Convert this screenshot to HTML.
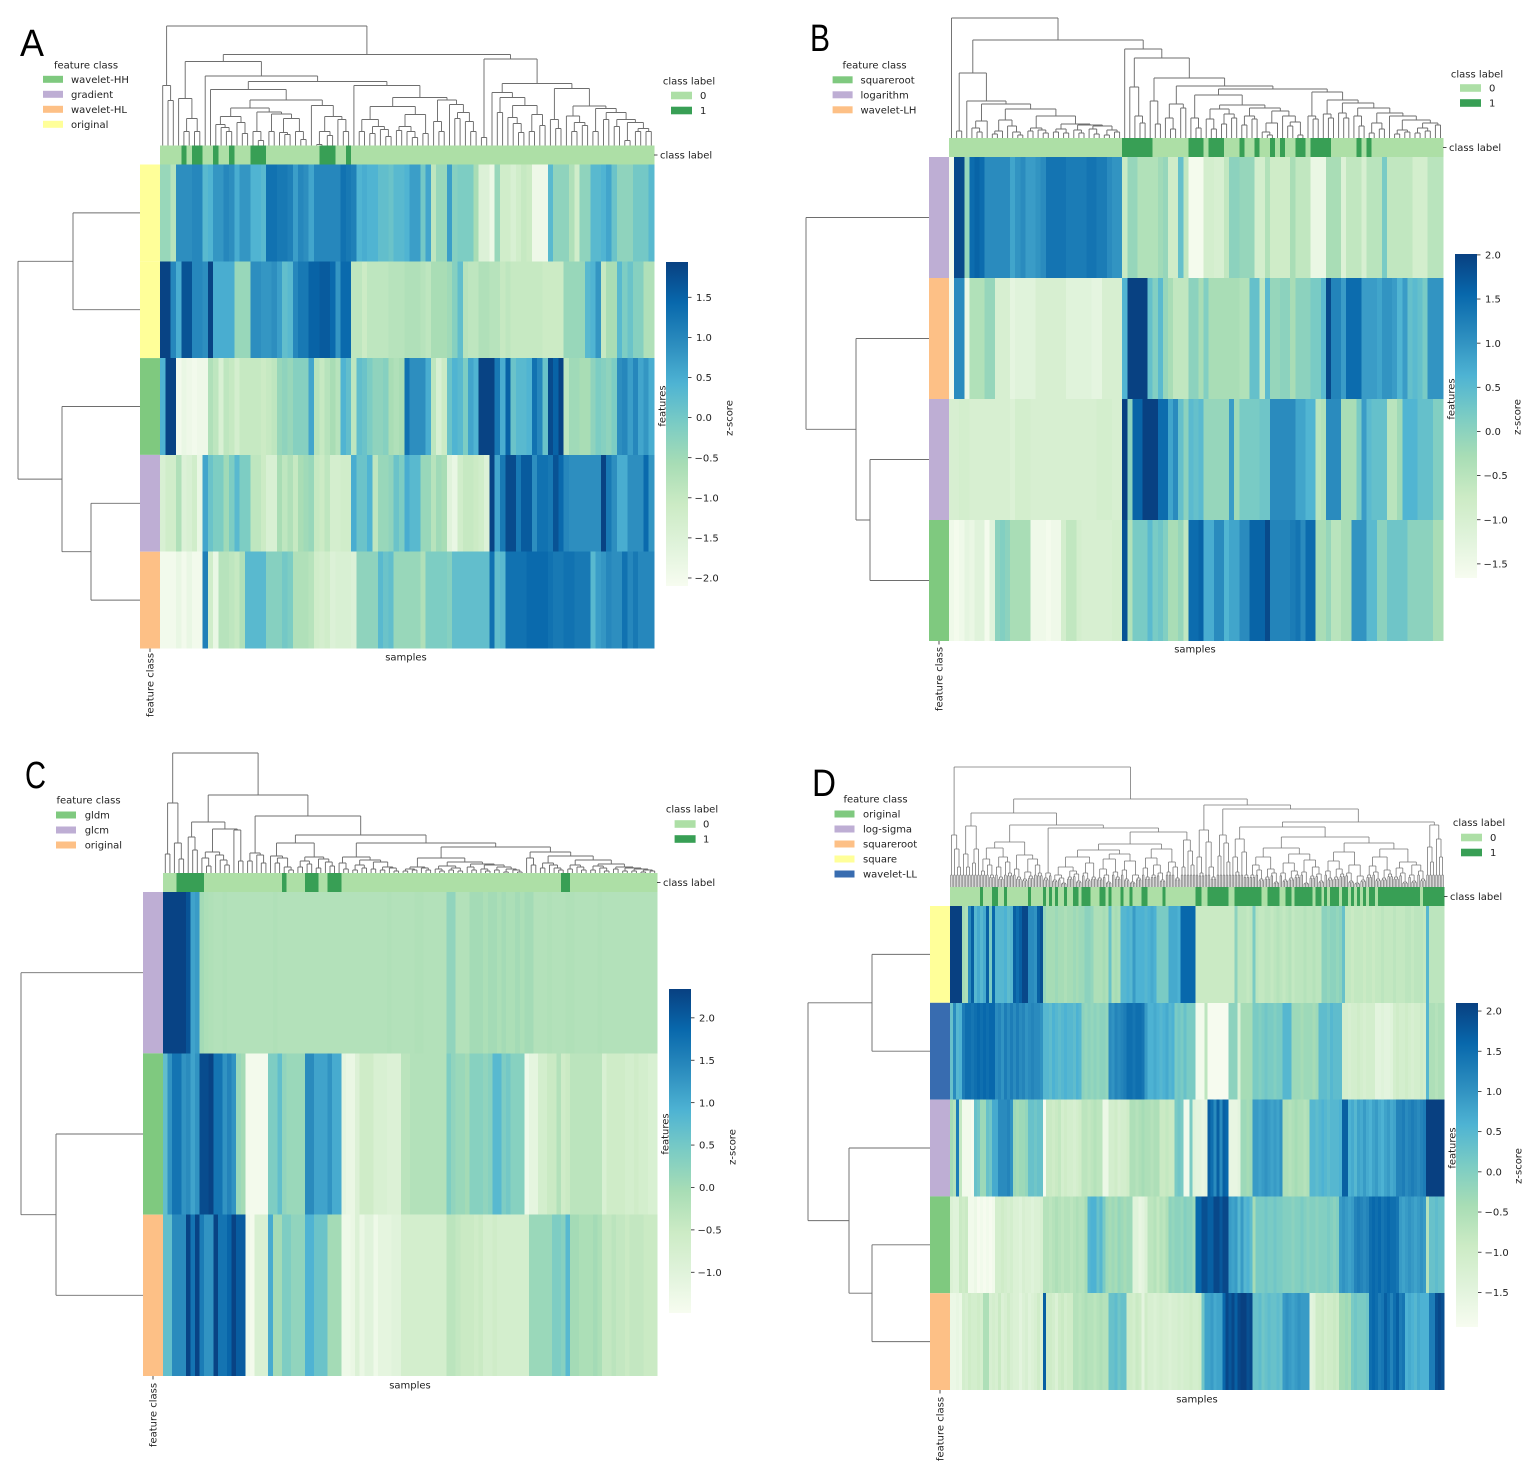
<!DOCTYPE html>
<html lang="en">
<head>
<meta charset="utf-8">
<title>Clustered heatmaps of radiomic features</title>
<style>
html,body{margin:0;padding:0;background:#fff}
svg{display:block}
text{font-family:"DejaVu Sans","Liberation Sans",sans-serif;font-size:10px;fill:#222}
.letter{font-family:"Liberation Sans",sans-serif;font-size:38px;fill:#000}
</style>
</head>
<body>
<svg id="figure" xmlns="http://www.w3.org/2000/svg" width="1535" height="1474" viewBox="0 0 1535 1474"></svg>
<script>
const NS = 'http://www.w3.org/2000/svg';

/* Dendrograms are stored as merge sequences: 0 = next leaf, any other number = merge the last two clusters at that distance. */

/* ---------- Panel A data ---------- */
const legendA = ['wavelet-HH','gradient','wavelet-HL','original'];
const rowClassesA = ['original','original','wavelet-HH','gradient','wavelet-HL'];
const classOneA = [4,6,7,10,13,17,18,19,30,31,32,35];
const ticksA = [1.5,1,.5,0,-.5,-1,-1.5,-2];
const zA1 = [-.4,-.4,-.8,.9,.9,.9,1,1,.3,.4,.8,.8,1,.9,.5,.8,.8,.4,.4,.3,1.3,1.3,1.2,1.2,1.1,.7,1,.9,.6,1,1,1,1,1,1.3,1.2,1.1,.4,.5,.4,.4,.2,.2,.1,.3,.3,.4,.7,.7,0,.6,-.9,-.4,-.4,.7,-.2,-.1,-.1,-.1,-.6,-1.5,-1.5,-1.85,-.4,-1.2,-1.2,-1.4,-1.2,-1,-1.1,-1.9,-1.9,-1.9,.3,-.3,-.3,-.3,-.7,-1.2,-.3,-.3,.3,.3,.4,.6,.1,-.3,-.3,-.3,0,0,0,.3];
const zA2 = [1.9,1.9,1,.5,1.7,1.7,1,1,.9,1.9,.5,.5,.5,.5,-.4,-.4,-.4,.9,.9,.8,.8,.9,.7,.2,.3,1,1.2,1.2,1.5,1.5,1.6,1.6,1.4,.8,1.4,1.4,-.9,-.9,-1.1,-.9,-.9,-.9,-.9,-.8,-.8,-.8,-.7,-.7,-.7,-.8,-.9,-.6,-.6,-.6,-.5,-.2,.2,-.8,-.9,-.9,-.7,-.7,-.8,-.8,-1,-.9,-1,-1,-1,-1,-1,-1,-1.1,-1.1,-1.1,-1.1,-.4,-.4,-.4,-.4,.3,.4,.8,-1,-.6,-.6,.3,-.1,.1,-.2,-.2,-.7,-.7];
const zA3 = [.4,1.9,1.9,-2,-1.8,-1.9,-2,-1.9,-1.9,-.7,-.9,-1.4,-.9,-1,-1.3,-1,-1,-1,-1,-1.1,-1,-.9,-.4,-.3,-.4,-.2,-.2,-.2,.6,-.8,-1,-.8,-.6,-.8,.4,.2,-.9,.2,.1,-.1,-.3,-.3,-.2,-.6,-.7,-.6,1.3,.9,.9,.9,.5,-.9,-1.4,-1.1,.1,.4,.3,-.1,.6,.4,1.9,1.9,1.9,1.2,.5,1.5,.1,.3,.3,.4,1.3,1,.1,1.8,1.5,1.9,-.9,-.5,-.5,-.6,-.6,-.3,-.1,-.2,-.3,-.1,.9,1,.7,1,.6,.8,.5];
const zA4 = [-1.4,-1.2,-1.2,-.7,-1.5,-1.4,-1.2,-1.8,.6,.1,-.1,-.1,-.5,-.1,.3,-.1,-.1,-.9,-.9,-1.1,-1.4,-1.4,-.6,-.9,-.7,-1,-.6,-.5,-.4,-1,-1.1,-.9,-1.3,-1.3,-1.2,-1.2,.5,.1,.1,.4,-.9,-.4,-.4,-.3,.1,-.1,.5,.3,.3,-.4,-.4,-.8,-.5,-.6,-1.6,-1.8,-1.2,-1,-1,-1.1,-1.2,-1.5,1.9,.6,1.2,1.8,1.8,1.2,1.6,1.6,.9,1.3,1.3,1.2,1.7,1.4,1,.9,.9,.9,.9,.9,.9,1.9,1.2,.9,.5,.5,.9,.9,.9,1.4,.8];
const zA5 = [-2,-2,-2,-1.8,-2,-1.8,-2,-2,1.1,-1.2,-1.8,-.8,-.8,-.9,-1,-.7,.3,.3,.3,.3,-.2,-.2,-.2,0,-.1,-.7,-.7,-.7,-.8,-1.2,-1.3,-1.2,-1.5,-1.4,-1.4,-1.4,-1.5,-.3,-.3,-.3,-.3,.3,.1,.2,-.4,-.4,-.4,-.4,-.4,-.7,-.1,-.1,-.1,-.1,-.2,.2,.2,.2,.2,.2,.2,.2,1.3,.2,.3,1.3,1.3,1.3,1.3,1.4,1.4,1.4,1.4,1.3,1.2,1.2,1.3,1.3,1.2,1.2,1.2,.3,.7,.8,1,.9,.9,1.3,1,1.2,1,1,1];
const treeA = [0,0,0,45,60,
 0,0,0,14,0,0,14,27,47,
 0,0,0,0,0,0,14,18,21,0,0,0,12,23,29,0,0,0,5,14,0,0,14,0,0,0,11,13,0,0,0,6,14,27,31.5,33.5,37.5,
 0,0,0,1,0,0,10,14,0,0,0,14,26,29,40,45.5,56,
 0,0,0,14,0,0,12,0,0,0,9,16,19,26,0,0,15,0,0,0,8,14,19,0,0,12,31,39,
 0,0,0,14,24,0,0,0,27,0,0,0,14,24,33,41,45.5,48,60,64,69.5,84,
 0,0,8,
 0,0,0,33,0,0,0,0,13,22,28,0,0,14,0,0,20,31,40,48,53,
 0,0,0,17,26,0,0,0,14,0,0,20,23,29.5,
 0,0,14,0,0,26,0,0,19,0,0,5,0,0,14,0,0,14,17,23,26,33,37,39.5,57,62,86.5,91,119.5];
const rowTreeA = [0,0,67,0,0,0,49,78,122];

/* ---------- Panel B data ---------- */
const legendB = ['squareroot','logarithm','wavelet-LH'];
const rowClassesB = ['logarithm','wavelet-LH','logarithm','squareroot'];
const classOneB = [34,35,36,37,38,39,47,48,49,51,52,53,57,60,63,65,68,69,71,72,73,74,80,82];
const ticksB = [2,1.5,1,.5,0,-.5,-1,-1.5];
const zB1 = [-1.6,1.9,1.9,-.1,1.5,1.6,1.5,1.1,1.1,1.1,1.1,1.1,.8,1,1.1,.9,.9,1,1.1,1.4,1.4,1.4,1.4,1.3,1.3,1.3,1.3,1.4,1.4,1.3,1.3,1.1,1,1,-.7,-.1,-.1,-.4,-.4,-.4,-.4,-.2,-.1,-.8,-.8,.4,-.6,-1.6,-1.6,-1.6,-.9,-.9,-1,-1,-.6,0,0,-.1,-.1,-.1,-.9,-.9,-.4,-.8,-.8,-.8,-.8,-.3,-.6,-.6,-.6,-1.4,-1.4,-1.4,-.3,-.3,-.3,-1.1,-.6,-.6,-.6,-1,-.5,-.5,-.5,.2,-.6,-.6,-.6,-.6,-.6,-.9,-.9,-.9,-.5,-.5,-.5];
const zB2 = [-1.6,1.1,1.1,-1.4,-.4,-.4,-.4,-.1,-.1,-1,-1,-1,-1.3,-1.2,-1.2,-1.2,-1.2,-1,-1,-1,-1,-1,-1,-1.2,-1.2,-1.2,-1.2,-1.2,-1.3,-1.3,-1,-1,-1,-1,.6,2,2,2,2,.4,.1,.5,-.1,-.3,-.6,-.6,-.6,0,0,-.3,.1,-.3,-.3,-.3,-.3,-.3,-.3,-.4,-.4,.4,.4,-.6,.5,-.1,-.1,0,0,-.3,0,0,0,.2,.2,.5,1.9,1.2,1.2,.9,1.5,1.5,1.5,.9,.9,.9,.8,1,1,.9,.6,.9,.4,.5,.4,.2,1,1,1];
const zB3 = [-1,-1,-.9,-.9,-1,-1,-1,-1,-1,-1,-1,-1,-1.1,-.9,-.9,-.9,-1,-1,-1,-1,-1,-1,-1,-1,-1,-1,-1,-1,-1,-.9,-.9,-.9,-1,-1,2,0,1.6,1.6,2,2,2,1.5,1.5,.8,1.1,.4,0,.5,.4,.5,-.1,-.1,-.1,-.1,-.1,.9,-.2,.2,.2,.2,.2,.3,.3,1.1,1.1,1.1,1.1,1.1,.8,.8,.6,.6,-.5,-.4,1.1,1.1,1.1,-.3,-.3,-.3,.2,.9,.5,.4,.4,.4,-.5,-.5,-.2,.6,.6,.6,.4,.4,.4,.1,.1];
const zB4 = [-1.5,-1.6,-1.5,-1.3,-1.4,-1.2,-1.2,-1.6,-1.2,0,.1,0,-.3,-.3,-.3,-.3,-1.5,-1.5,-1.5,-1.6,-1.5,-1.5,-.9,-.6,-.6,-.9,-1,-1,-1,-1,-1,-1,-.9,-.9,1.8,-.4,.2,.2,.2,.5,.2,.3,.1,-.3,-.3,-.1,-.6,1.5,1.5,1.6,.7,.7,1.1,1.1,.6,.8,.8,1.1,1.1,1.6,1.6,1.6,1.9,1.2,1.2,1.2,1.2,1.3,1.4,1.1,1.5,1.5,-.3,-.3,-.1,-.5,-.5,-.3,-.3,1,1,1,.5,.5,0,0,.3,.3,.3,.3,0,0,0,0,0,-.3,-.3];
const treeB = [0,
 0,0,7,0,
 0,0,0,6,10,0,17,
 0,0,4,0,7,0,0,0,0,3,6,12,18,
 0,0,7,0,0,0,5,8,10,
 0,0,6,0,0,5,9,0,0,0,5,8,0,0,0,4,9,0,0,3,0,0,6,8,12,13,14,22,29,34,37,65,
 0,0,0,0,0,15,22,51,0,0,0,14,37,0,0,0,9,20,0,0,30,34,
 0,0,0,10,20,0,0,0,9,19,0,0,14,0,0,20,24,29,0,0,13,0,0,19,22,0,0,0,3,6,0,15,0,0,0,12,0,0,3,16,22,27,30,33,43,
 0,0,0,19,22,0,0,0,20,24,0,0,0,20,25,0,0,0,12,22,0,0,5,0,0,9,15,0,0,0,4,0,0,6,8,0,0,5,0,0,7,10,0,0,13,15,18,22,25,30,35,38,46,
 49,52,60,80,89,98,120];
const rowTreeB = [0,0,0,0,59,73,123];

/* ---------- Panel C data ---------- */
const legendC = ['gldm','glcm','original'];
const rowClassesC = ['glcm','gldm','original'];
const classOneC = [3,4,5,6,7,8,26,31,32,33,36,37,38,87,88];
const ticksC = [2,1.5,1,.5,0,-.5,-1];
const zC1 = [2.3,2.3,2.3,2.3,2.3,2.1,1.1,1.2,0,-.1,-.15,-.2,-.2,-.15,-.2,-.2,-.2,-.2,-.2,-.2,-.2,-.2,-.2,-.2,-.15,-.2,-.2,-.2,-.2,-.2,-.2,-.2,-.2,-.2,-.2,-.2,-.2,-.2,-.2,-.2,-.2,-.2,-.2,-.2,-.2,-.2,-.2,-.2,-.2,-.15,-.2,-.2,-.2,-.2,-.2,-.15,-.15,-.2,-.2,-.2,-.2,-.2,.2,.2,-.2,-.2,-.2,0,0,0,-.1,0,0,-.1,0,-.1,-.1,0,-.1,0,0,-.2,-.2,-.2,-.15,-.2,-.2,-.2,-.15,-.15,-.2,-.2,-.2,-.2,-.2,-.15,-.2,-.2,-.2,-.2,-.2,-.2,-.2,-.2,-.2,-.2,-.2,-.2];
const zC2 = [.7,1.3,1.7,1.7,1.3,1.4,1.1,1.3,2.2,2.2,2.3,1.7,1.7,1.3,1.5,1.3,.1,0,-1.4,-1.4,-1.4,-1.4,-1.4,.4,.4,.7,.2,.1,.1,.1,.1,1.4,1.4,1.1,1.1,1.1,1.3,1,1,-1.1,-1.2,-1.2,-.9,-.6,-.6,-.6,-.8,-.8,-.8,-.9,-.9,-.9,-.3,-.3,-.2,-.2,-.2,-.2,-.2,-.2,-.2,-.2,.4,.2,.1,.1,0,.3,.3,.3,.2,.3,.8,.8,.4,.5,.3,.3,.3,-1.3,-1.1,-1.1,-.7,-.7,-.5,-.5,-.2,-.6,-.5,-.3,-.3,-.3,-.3,-.3,-.3,-.3,-.8,-.6,-.6,-.6,-.6,-.7,-.7,-.6,-.7,-.7,-.8,-.8];
const zC3 = [.7,.7,1.4,1.4,1.4,2.3,1.7,2.3,1.6,1.3,1.3,2.3,1.7,1.7,1.9,2.3,2,2,-1.3,-1.4,-.8,-.8,-.8,1,0,0,.4,.4,.2,.2,.2,.9,.9,.6,.6,.6,0,0,0,-1.3,-1.3,-1.2,-.9,-1.2,-1,-1,-1.3,-1.1,-1.1,-1.1,-1,-1,-.7,-.7,-.7,-.7,-.7,-.7,-.7,-.7,-.7,-.7,-.3,-.3,-.4,-.5,-.5,-.5,-.6,-.5,-.7,-.7,-.6,-.7,-.7,-.7,-.7,-.7,-.7,-.7,.1,.1,.1,.1,.1,.4,.4,.3,.8,0,0,-.1,-.1,-.1,0,-.1,-.4,-.4,-.3,-.4,-.4,-.5,-.4,-.4,-.4,-.5,-.5,-.5];
const treeC = [0,0,19,0,0,0,14,30,70,
 0,0,0,23,36,0,0,0,7,15,0,0,0,0,8,13,18,21,0,0,0,12,43,44,51,
 0,0,12,0,0,0,10,18,20,
 0,0,0,10,0,0,0,3,6,15,17,0,0,6,0,0,9,12,0,0,5,0,0,0,7,11,14,16,30,
 0,0,0,4,10,0,0,3,0,0,5,8,0,0,4,0,0,3,0,0,0,2,5,6,11,13,16,
 0,0,2,0,0,3,4,0,0,0,3,5,6,
 0,0,0,2,4,0,0,3,0,0,2,5,7,
 0,0,0,3,6,0,0,0,2,4,0,0,3,0,0,1,0,0,0,1,3,4,6,8,9,11,15,
 0,0,0,8,15,0,0,5,0,0,0,0,3,5,8,10,0,0,4,0,0,0,3,6,8,0,0,3,0,0,0,2,5,7,0,0,4,0,0,2,0,0,2,0,0,1,0,0,2,3,4,5,6,9,13,17,21,
 26,30,38,57,78,120];
const rowTreeC = [0,0,0,87,122];

/* ---------- Panel D data ---------- */
const legendD = ['original','log-sigma','squareroot','square','wavelet-LL'];
const rowClassesD = ['square','wavelet-LL','log-sigma','original','squareroot'];
const classOneD = [10,14,15,18,26,31,33,35,38,41,42,44,45,46,50,51,53,57,60,64,65,71,82,83,86,87,88,89,90,91,92,95,96,97,98,99,100,101,102,103,106,107,108,109,112,113,115,116,117,118,119,120,122,123,125,127,128,129,131,132,134,136,138,140,141,143,144,145,146,147,148,149,150,151,152,153,154,155,156,158,159,160,161,162,163,164];
const ticksD = [2,1.5,1,.5,0,-.5,-1,-1.5];
const zD1 = [2.1,2.1,2.1,2.1,-.4,-.5,1.1,1.7,.5,.7,.5,.7,1.7,.1,1.6,.5,.5,.5,.6,.4,.5,1.7,1.5,1.7,2,2,1.1,1.1,1,1.7,1.9,-.2,-.4,-.4,-.4,-.3,-.4,-.4,-.5,-.4,-.4,-.3,-.4,-.3,-.3,-.1,-.1,-.2,-.5,-.5,-.5,-.4,-.5,.3,-.5,-.4,-.5,.5,.5,.6,.5,.9,.6,.6,.6,.5,.6,.7,.6,.1,.1,.1,.1,.7,.7,.7,.6,1.6,1.6,1.6,1.6,1.6,-.9,-.9,-.9,-.9,-.9,-.9,-.9,-.9,-.9,-.9,-.9,-.9,-.9,-.1,-.7,-.7,-.7,-.8,-.7,.1,-.7,-.8,-.8,-.7,-.7,-.8,-.7,-.6,-.7,-.8,-.7,-.6,-.8,-.7,-.7,-.7,-.6,-.7,-.7,-.6,-.7,-.7,-.1,-.1,-.2,-.1,-.1,-.2,-.1,.3,-.8,-.8,-.9,-.8,-.8,-.8,-.9,-.8,-.8,-.9,-.8,-.8,-.7,-.8,-.8,-.8,-.7,-.8,-.8,-.8,-.7,-.7,-.8,-.7,-.7,-.7,-.8,.5,-.7,-.7,-.7,-.7,-.7];
const zD2 = [.3,1.1,.5,.6,1.3,1.5,1.5,1.4,1.5,1.6,1.5,1.6,1.5,1.6,1.6,1.1,1.2,1,1.3,1.1,1.3,1.1,1.3,1.1,1.2,1,1.1,1.2,1.1,1.1,1,.5,.5,.4,.6,.5,.4,.5,.6,.5,.5,.4,.6,.5,-.1,-.2,-.1,-.2,-.1,-.2,-.1,-.1,-.2,1.1,1,1.2,1.1,1.2,1.3,1.5,1.5,1.4,1.5,1.5,1.4,.9,.6,.6,.7,.6,.5,.6,.7,.5,.6,.1,.2,.1,.3,.1,.1,.1,-1.8,-1.8,-1.8,-.7,-1.9,-1.9,-1.9,-1.9,-1.9,-1.9,-1.9,-.1,-.1,-.1,-1.3,-.4,-.4,-.4,-.4,.1,.1,0,.1,.2,.1,.1,0,.1,.1,.5,.5,.5,-.3,-.3,-.3,-.4,-.3,-.3,-.3,-.4,-.3,.4,.4,.4,.3,.5,.4,.4,.4,-1.1,-1.1,-1.2,-1.1,-1.1,-1,-1.1,-1.2,-1.1,-1.1,-1.1,-1.5,-1.5,-1.4,-1.5,-1.5,-1.4,-1.1,-1,-1.1,-1.1,-1,-1.1,-1.2,-1.1,-1.1,-1,-1.1,.5,-.5,-.5,-.6,-.5,-.5];
const zD3 = [-.4,-.6,1.3,-.8,-1.8,-1.8,-1.8,-1.9,.3,.2,-.3,-.3,.3,.2,.7,.7,1.1,1.1,1.1,1.2,1,-.3,-.4,-.3,-.3,-.2,.3,.3,.2,.3,.3,-1.9,-.9,-.9,-1,-.9,-.8,-1.1,-1,-1.1,-1.1,-1.2,-1.1,-1,-.7,-.7,-.8,-.7,-.6,-.7,-.7,-1.7,-1.7,-1.1,-1.1,-1,-1.2,-1.1,-1.1,-1,-.5,-.5,-.6,-.5,-.4,-.5,-.5,-.6,-.5,-.5,-.9,-.9,-.8,-.9,-.9,.1,.2,.1,-1.8,-1.8,.1,-1.4,-1.5,-1.5,-1.6,-1.5,1.7,1.5,1.1,1.7,1.1,1.7,1.6,-1.6,-1.6,-1.6,-1.5,-.3,-.3,-.4,-.3,.9,.9,.8,.9,1,.9,.8,.9,.8,1,-.5,-.5,-.6,-.5,-.4,-.5,-.5,-.6,-.5,.5,.5,.4,.5,.6,.5,.4,.5,.5,.5,.6,1.7,1.7,.6,.7,.5,.8,.7,.9,.7,.6,.8,.9,.7,.6,.8,.9,.7,.8,1.2,1.2,1.3,1.1,1.2,1.3,1.2,1.1,1.2,1.3,2.1,2.1,2.1,2.1,2.1,2.1];
const zD4 = [-1.3,-1.4,-1.4,-.9,-1,-.9,-1.8,-1.8,-1.7,-1.9,-1.8,-1.9,-1.8,-1.9,-1.8,-1.1,-1.1,-1,-1.1,-1.2,-1.1,-1.3,-1.3,-1.4,-1.2,-1.3,-1.3,-1.4,-1.3,-1.3,-1.2,-.6,-.6,-.7,-.6,-.5,-.6,-.7,-.6,-.6,-.7,-.6,-.5,-.6,-.6,-.4,.5,.6,.6,.3,.5,.1,-.3,-.4,-.3,-.4,-.2,-.3,-.4,-.3,-.3,-1.4,-1.4,-1.6,-1.5,-1.3,-.7,-.7,-.6,-.8,-.6,-.7,-.5,-.1,-.2,-.1,-.1,-.2,0,-.1,-.1,-.3,1.6,1.6,1.9,1.9,1.7,1.7,2,2,1.8,2,2,.9,.8,.9,.5,.9,.5,.6,.4,-.4,.1,.1,.1,.2,.1,.1,.2,.1,.1,0,0,0,-.1,0,0,.1,0,-.1,0,0,-.1,0,0,0,.1,0,-.1,0,.9,1,.9,.8,.9,1.2,1.3,1.2,1.1,1.2,1.5,1.6,1.5,1.6,1.4,1.5,1.6,1.5,1.5,1.4,.9,.8,.9,1,.9,.8,.9,1,.9,-.6,.3,.3,.4,.3,.3];
const zD5 = [-1.7,-1.7,-1.6,-1.7,-1.1,-1.2,-1,-1.1,-1.1,-1,-1.1,-.5,-.5,-1.2,-1.1,-1.2,-.9,-1.3,-1.2,-1,-1.2,-1.3,-1.3,-1.5,-1.3,-1.2,-1.4,-1.3,-1.2,-1,-1.3,1.7,-1,-1,-1.1,-1.3,-1,-.9,-1.1,-1,-1,-.6,-.6,-.7,-.6,-.5,-.6,-.6,-.7,-.6,-.5,-.6,-.6,.3,.3,.4,.2,.3,.3,-1,-1,-1.1,-.9,-1,-1.5,-1,-1.2,-1.2,-1.3,-1.2,-1.1,-1.2,-1.2,-1.3,-1.2,-1.2,-1.1,-1.2,-1.1,-1.1,-1,-1.1,-1.1,-1,.2,.8,.8,.9,.7,.8,.8,1.6,2,1.8,2,1.7,2,2.1,2.1,1.9,2,.3,.3,.4,.2,.3,.4,.3,.3,.4,.3,.9,1,.9,.8,.9,1,.9,.9,.9,-1.5,-1.4,-1,-1,-.9,-1.1,-1,-1,-.9,-1,-.4,-.4,-.3,-.4,.1,.2,.1,.1,.1,.2,1.5,1.6,1.5,1.3,1.4,1.7,1.5,1.2,1.5,1.7,1.3,1.4,.6,.7,.6,.5,.7,.6,.6,.6,1.3,1.3,1.9,2,1.9];
const treeD = [0,0,0,0,20,38,52,
 0,0,0,20,33,0,0,24,0,38,61,
 0,0,16,0,0,0,12,22,28,0,0,0,10,20,0,0,0,14,25,30,39,
 0,0,0,10,18,0,0,8,0,0,11,15,0,0,0,14,22,28,32,45,
 0,0,9,0,14,
 0,0,7,0,0,0,4,9,12,0,0,10,0,0,0,6,13,16,20,0,0,0,8,14,0,0,10,24,30,
 0,0,9,0,0,0,5,12,18,0,0,0,10,15,28,0,0,0,8,17,0,0,5,0,0,9,12,26,33,37,
 0,0,0,10,19,0,0,12,0,0,0,7,14,22,29,0,0,15,0,0,0,9,20,25,38,43,
 0,0,20,0,0,0,22,36,47,55,59,62,74,
 0,0,0,14,30,0,0,0,0,10,20,45,57,
 0,0,31,0,0,0,25,44,52,
 0,0,0,15,30,0,0,0,12,35,48,
 0,0,12,0,0,0,8,17,22,0,0,10,0,0,0,5,14,18,30,
 0,0,0,7,14,0,0,9,0,0,12,16,24,0,0,0,4,15,0,0,11,0,0,0,6,13,20,27,33,39,
 0,0,0,9,16,0,0,10,0,0,13,18,26,0,0,0,6,14,0,0,4,0,0,7,11,22,35,
 0,0,12,0,0,0,8,15,21,0,0,9,0,0,13,17,30,
 0,0,10,0,0,0,5,14,19,0,0,0,6,12,0,0,0,8,16,22,25,38,44,50,60,
 0,0,0,25,40,0,0,0,30,48,62,65,78,82,88,120];
const rowTreeD = [0,0,58,0,0,0,58,81,122];

/* ---------- Colours ---------- */
const gnbuStops = ['#f7fcf0','#e0f3db','#ccebc5','#a8ddb5','#7bccc4','#4eb3d3','#2b8cbe','#0868ac','#084081'];
const accentColors = ['#7fc97f','#beaed4','#fdc086','#ffff99','#386cb0'];
const classColors = ['#addfa6','#389f55'];

function hexRgb(h){return [1,3,5].map(i=>parseInt(h.substr(i,2),16));}
function gnbu(t){
  t=Math.max(0,Math.min(1,t));
  const p=t*(gnbuStops.length-1),i=Math.min(gnbuStops.length-2,Math.floor(p)),f=p-i;
  const a=hexRgb(gnbuStops[i]),b=hexRgb(gnbuStops[i+1]);
  return 'rgb('+a.map((v,k)=>Math.round(v+(b[k]-v)*f)).join(',')+')';
}

/* ---------- Panel layout ---------- */
const layouts = [
 {id:'a',letter:'A',letterW:24,fringe:0,lx:20,ly:56,hx:160,hy:164.5,cb:[666,262],range:[-2.1,1.94],leg:[86,65,43,71,79.3],cl:[689,81,671,700,95.5],samples:[406,657],fc:[150,685],feat:[662,406],zs:[729,418],rows:[zA1,zA2,zA3,zA4,zA5],rowClasses:rowClassesA,legend:legendA,classOne:classOneA,ticks:ticksA,tree:treeA,rowTree:rowTreeA},
 {id:'b',letter:'B',letterW:20,fringe:0,lx:810,ly:51,hx:949,hy:157,cb:[1455,254],range:[-1.66,2.01],leg:[874.5,65,832.6,860.5,79.8],cl:[1477,74,1460,1489,88],samples:[1195,649],fc:[939,679],feat:[1451,399],zs:[1517,417],rows:[zB1,zB2,zB3,zB4],rowClasses:rowClassesB,legend:legendB,classOne:classOneB,ticks:ticksB,tree:treeB,rowTree:rowTreeB},
 {id:'c',letter:'C',letterW:21,fringe:0,lx:25,ly:788,hx:163,hy:892,cb:[669,989],range:[-1.48,2.34],leg:[88.5,800,56,84.7,815],cl:[692,809,674.6,703,824],samples:[410,1385],fc:[153,1415],feat:[665,1134],zs:[732,1147],rows:[zC1,zC2,zC3],rowClasses:rowClassesC,legend:legendC,classOne:classOneC,ticks:ticksC,tree:treeC,rowTree:rowTreeC},
 {id:'d',letter:'D',letterW:24,fringe:12,lx:812,ly:796,hx:950,hy:906,cb:[1456,1003],range:[-1.93,2.1],leg:[875.5,799,834.5,863,814],cl:[1479,822.7,1461,1490,837.5],samples:[1197,1399],fc:[940,1429],feat:[1452,1148],zs:[1518,1166],rows:[zD1,zD2,zD3,zD4,zD5],rowClasses:rowClassesD,legend:legendD,classOne:classOneD,ticks:ticksD,tree:treeD,rowTree:rowTreeD}
];
const HEAT_W = 494, HEAT_H = 484, SIDE_W = 20, STRIP_H = 19, CB_W = 22, CB_H = 324, LEG_STEP = 15;

const svg = document.getElementById('figure');

function make(parent,tag,attrs,name){
  const el=document.createElementNS(NS,tag);
  for(const k in attrs) el.setAttribute(k,attrs[k]);
  
  
  parent.appendChild(el);
  return el;
}
function label(parent,x,y,str,name,anchor,rot){
  const a={x:x,y:y,'text-anchor':anchor||'start'};
  if(rot) a.transform='rotate(-90 '+x+' '+y+')';
  const t=make(parent,'text',a,name);
  t.textContent=str;
  return t;
}
function buildTree(seq){
  const stack=[];
  seq.forEach(function(v){
    if(v===0){stack.push(0);return;}
    const b=stack.pop(),a=stack.pop();
    stack.push([v,a,b]);
  });
  return stack[0];
}
function countLeaves(n){return n===0?1:countLeaves(n[1])+countLeaves(n[2]);}
/* fringe > 0: each plotted column stands for a pair of samples, drawn as a small leaf-level merge */
function treePath(root,xOf,yOf,fringe){
  let i=0,d='';
  function seg(p1,h1,p2,h2){return 'M'+xOf(p1,h1)+' '+yOf(p1,h1)+'L'+xOf(p2,h2)+' '+yOf(p2,h2);}
  (function walk(n,parentH){
    if(n===0){
      const p=i++;
      if(!fringe) return {p:p,h:0};
      const h=Math.min(fringe,parentH*.8);
      d+=seg(p-.25,0,p-.25,h)+seg(p-.25,h,p+.25,h)+seg(p+.25,h,p+.25,0);
      return {p:p,h:h};
    }
    const a=walk(n[1],n[0]),b=walk(n[2],n[0]);
    d+=seg(a.p,a.h,a.p,n[0])+seg(a.p,n[0],b.p,n[0])+seg(b.p,n[0],b.p,b.h);
    return {p:(a.p+b.p)/2,h:n[0]};
  })(root,0);
  return d;
}

layouts.forEach(function(P){
  const g=make(svg,'g',{},'panel-'+P.id);
  const nRows=P.rows.length, rowH=HEAT_H/nRows;
  const yRow=r=>P.hy+r*rowH;
  const color=z=>gnbu((z-P.range[0])/(P.range[1]-P.range[0]));

  /* heatmap cells */
  const heat=make(g,'g',{'shape-rendering':'crispEdges'},'heatmap-'+P.id);
  P.rows.forEach(function(row,r){
    const w=HEAT_W/row.length;
    row.forEach(function(z,c){
      make(heat,'rect',{x:(P.hx+c*w).toFixed(2),y:yRow(r).toFixed(2),width:(w+.4).toFixed(2),height:rowH.toFixed(2),fill:color(z)},'heat-cell');
    });
  });

  /* row class colours */
  P.rowClasses.forEach(function(cls,r){
    make(g,'rect',{x:P.hx-SIDE_W,y:yRow(r).toFixed(2),width:SIDE_W,height:rowH.toFixed(2),fill:accentColors[P.legend.indexOf(cls)]},'row-class-'+cls);
  });

  /* column class strip */
  const nCols=P.rows[0].length, colW=HEAT_W/nCols;
  const strip=make(g,'g',{'shape-rendering':'crispEdges'},'class-label-strip-'+P.id);
  for(let c=0;c<nCols;c++){
    const cls=P.classOne.indexOf(c)>=0?1:0;
    make(strip,'rect',{x:(P.hx+c*colW).toFixed(2),y:P.hy-STRIP_H,width:(colW+.4).toFixed(2),height:STRIP_H,fill:classColors[cls]},'class-cell');
  }

  /* dendrograms */
  const colTree=buildTree(P.tree), rowTree=buildTree(P.rowTree);
  const nLeaf=countLeaves(colTree), leafW=HEAT_W/nLeaf, base=P.hy-STRIP_H;
  make(g,'path',{d:treePath(colTree,p=>(P.hx+(p+.5)*leafW).toFixed(1),(p,h)=>(base-h).toFixed(1),P.fringe),fill:'none',stroke:P.fringe?'#7a7a7a':'#6e6e6e','stroke-width':P.fringe?.8:.95},'column-dendrogram-'+P.id);
  const side=P.hx-SIDE_W;
  make(g,'path',{d:treePath(rowTree,(p,h)=>(side-h).toFixed(1),p=>(P.hy+(p+.5)*rowH).toFixed(1),0),fill:'none',stroke:'#6e6e6e','stroke-width':.95},'row-dendrogram-'+P.id);

  /* axis annotations */
  make(g,'line',{x1:P.hx+HEAT_W,x2:P.hx+HEAT_W+3.5,y1:base+STRIP_H/2,y2:base+STRIP_H/2,stroke:'#222','stroke-width':.8},'class-label-tick');
  label(g,P.hx+HEAT_W+6,base+STRIP_H/2+3.5,'class label','class-label-axis-title');
  label(g,P.samples[0],P.samples[1]+3.5,'samples','x-axis-title','middle');
  make(g,'line',{x1:P.hx-SIDE_W/2,x2:P.hx-SIDE_W/2,y1:P.hy+HEAT_H,y2:P.hy+HEAT_H+3.5,stroke:'#222','stroke-width':.8},'feature-class-tick');
  label(g,P.fc[0]+3.5,P.fc[1],'feature class','feature-class-axis-title','middle',true);
  label(g,P.feat[0]+3.5,P.feat[1],'features','y-axis-title','middle',true);
  label(g,P.zs[0]+3.5,P.zs[1],'z-score','colorbar-title','middle',true);

  /* colorbar */
  const defs=make(g,'defs',{},'colorbar-defs');
  const grad=make(defs,'linearGradient',{id:'grad-'+P.id,x1:0,y1:1,x2:0,y2:0},'colorbar-gradient');
  gnbuStops.forEach(function(col,i){
    make(grad,'stop',{offset:i/(gnbuStops.length-1),'stop-color':col},'gradient-stop');
  });
  make(g,'rect',{x:P.cb[0],y:P.cb[1],width:CB_W,height:CB_H,fill:'url(#grad-'+P.id+')'},'colorbar-'+P.id);
  const yCb=v=>P.cb[1]+(P.range[1]-v)/(P.range[1]-P.range[0])*CB_H;
  P.ticks.forEach(function(v){
    const y=yCb(v), xr=P.cb[0]+CB_W;
    make(g,'line',{x1:xr,x2:xr+3.5,y1:y,y2:y,stroke:'#222','stroke-width':.8},'colorbar-tick');
    label(g,xr+(v<0?6.5:8),y+3.6,v.toFixed(1).replace('-','\u2212'),'colorbar-tick-label');
  });

  /* feature class legend */
  label(g,P.leg[0],P.leg[1]+3.5,'feature class','feature-class-legend-title','middle');
  P.legend.forEach(function(cls,i){
    const y=P.leg[4]+i*LEG_STEP;
    make(g,'rect',{x:P.leg[2],y:y-3.5,width:20,height:7,fill:accentColors[i]},'legend-swatch-'+cls);
    label(g,P.leg[3],y+3.6,cls,'legend-entry-'+cls);
  });

  /* class label legend */
  label(g,P.cl[0],P.cl[1]+3.5,'class label','class-label-legend-title','middle');
  ['0','1'].forEach(function(cls,i){
    const y=P.cl[4]+i*LEG_STEP;
    make(g,'rect',{x:P.cl[2],y:y-3.8,width:21,height:7.6,fill:classColors[i]},'class-legend-swatch-'+cls);
    label(g,P.cl[3],y+3.6,cls,'class-legend-entry-'+cls);
  });

  const letter=label(g,P.lx,P.ly,P.letter,'panel-letter-'+P.id);
  letter.setAttribute('class','letter');
  letter.setAttribute('textLength',P.letterW);
  letter.setAttribute('lengthAdjust','spacingAndGlyphs');
});
</script>
</body>
</html>
